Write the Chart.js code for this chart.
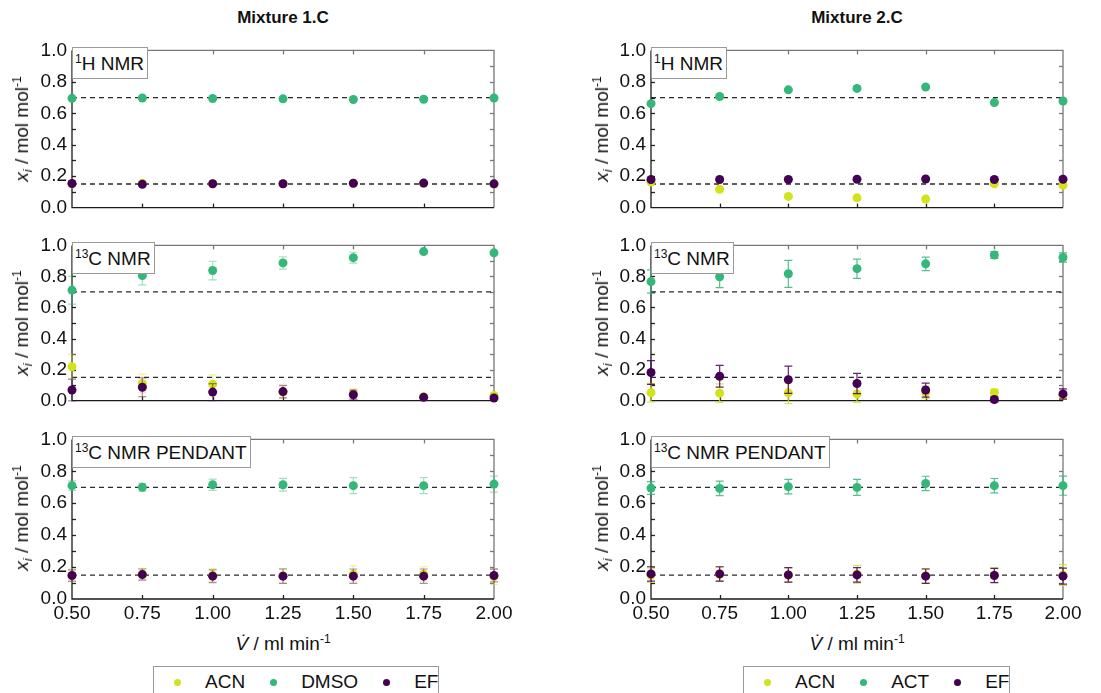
<!DOCTYPE html>
<html>
<head>
<meta charset="utf-8">
<script src="https://cdn.jsdelivr.net/npm/chart.js@4.4.0/dist/chart.umd.min.js"></script>
<style>
  body { margin: 0; background: #fff; font-family: "Liberation Sans", Arial, sans-serif; color: #111; }
  #fig { position: relative; width: 1101px; height: 693px; overflow: hidden; background: #fff; }
  #fig canvas { position: absolute; }
  .txt { position: absolute; white-space: nowrap; font-size: 19px; line-height: 22px; }
  .title { font-weight: bold; font-size: 17px; transform: translate(-50%, -50%); }
  .ylab { transform: translate(-50%, -50%) rotate(-90deg); }
  .xlab { transform: translate(-50%, -50%); }
  .tag { position: absolute; background: #fff; border: 1px solid #9a9a9a; font-size: 19px; line-height: 21px; padding: 5px 3px 4px 2px; white-space: nowrap; }
  sup { font-size: 12px; vertical-align: 7px; line-height: 0; }
  sub { font-size: 13px; vertical-align: -4px; line-height: 0; }
  .legend { position: absolute; border: 1px solid #9a9a9a; height: 40px; display: flex; align-items: flex-start; padding-top: 4px; box-sizing: border-box; font-size: 19px; line-height: 22px; }
  .legend .item { display: flex; align-items: center; margin-right: 25px; flex-shrink: 0; }
  .legend .item:last-child { margin-right: 0; }
  .legend .dot { width: 7px; height: 7px; border-radius: 50%; margin-right: 24px; }
</style>
</head>
<body>
<div id="fig"></div>
<script>
// flow rate V̇ / ml min-1
const flowRates = [0.5, 0.75, 1.0, 1.25, 1.5, 1.75, 2.0];
const refLevels = [0.7, 0.15];

const mixtureTitles = ['Mixture 1.C', 'Mixture 2.C'];
const names1 = ['ACN', 'DMSO', 'EF'];
const names2 = ['ACN', 'ACT', 'EF'];
const seriesColors = ['#d2e21b', '#35b779', '#440154'];
const methodLabels = ['<sup>1</sup>H NMR', '<sup>13</sup>C NMR', '<sup>13</sup>C NMR PENDANT'];

// Mixture 1.C
const m1H_acn  = [0.152, 0.155, 0.151, 0.152, 0.155, 0.154, 0.150];
const m1H_dmso = [0.695, 0.697, 0.694, 0.692, 0.688, 0.689, 0.697];
const m1H_ef   = [0.153, 0.148, 0.152, 0.152, 0.155, 0.156, 0.151];
const m1H_err  = [0.003, 0.003, 0.003, 0.003, 0.003, 0.003, 0.003];

const m1C_acn      = [0.218, 0.110, 0.106, 0.055, 0.045, 0.025, 0.033];
const m1C_acn_err  = [0.080, 0.060, 0.060, 0.040, 0.030, 0.010, 0.010];
const m1C_dmso     = [0.712, 0.806, 0.838, 0.887, 0.921, 0.960, 0.952];
const m1C_dmso_err = [0.090, 0.060, 0.060, 0.040, 0.035, 0.010, 0.012];
const m1C_ef       = [0.068, 0.086, 0.055, 0.058, 0.038, 0.021, 0.017];
const m1C_ef_err   = [0.070, 0.060, 0.055, 0.040, 0.030, 0.010, 0.010];

const m1P_acn      = [0.148, 0.157, 0.150, 0.145, 0.157, 0.157, 0.140];
const m1P_acn_err  = [0.040, 0.035, 0.040, 0.045, 0.050, 0.045, 0.050];
const m1P_dmso     = [0.710, 0.700, 0.716, 0.716, 0.710, 0.710, 0.720];
const m1P_dmso_err = [0.030, 0.025, 0.035, 0.040, 0.050, 0.050, 0.050];
const m1P_ef       = [0.147, 0.153, 0.143, 0.143, 0.143, 0.143, 0.147];
const m1P_ef_err   = [0.035, 0.035, 0.040, 0.045, 0.045, 0.045, 0.040];

// Mixture 2.C
const m2H_acn = [0.163, 0.117, 0.071, 0.062, 0.054, 0.152, 0.142];
const m2H_act = [0.661, 0.707, 0.749, 0.758, 0.767, 0.668, 0.678];
const m2H_ef  = [0.179, 0.179, 0.179, 0.180, 0.182, 0.179, 0.180];
const m2H_err = [0.003, 0.003, 0.003, 0.003, 0.003, 0.003, 0.003];

const m2C_acn     = [0.051, 0.048, 0.050, 0.043, 0.052, 0.052, 0.034];
const m2C_acn_err = [0.060, 0.060, 0.070, 0.055, 0.040, 0.020, 0.020];
const m2C_act     = [0.767, 0.798, 0.817, 0.850, 0.881, 0.938, 0.922];
const m2C_act_err = [0.075, 0.070, 0.087, 0.062, 0.043, 0.022, 0.030];
const m2C_ef      = [0.181, 0.157, 0.134, 0.110, 0.068, 0.007, 0.043];
const m2C_ef_err  = [0.077, 0.070, 0.088, 0.065, 0.045, 0.015, 0.033];

const m2P_acn     = [0.150, 0.155, 0.150, 0.155, 0.145, 0.150, 0.150];
const m2P_acn_err = [0.045, 0.045, 0.045, 0.055, 0.045, 0.045, 0.065];
const m2P_act     = [0.695, 0.693, 0.704, 0.699, 0.724, 0.710, 0.710];
const m2P_act_err = [0.040, 0.045, 0.045, 0.050, 0.045, 0.045, 0.060];
const m2P_ef      = [0.157, 0.157, 0.151, 0.151, 0.143, 0.147, 0.143];
const m2P_ef_err  = [0.045, 0.045, 0.045, 0.045, 0.045, 0.045, 0.050];

const panels = [
  { col: 0, row: 0, values: [m1H_acn, m1H_dmso, m1H_ef], errors: [m1H_err, m1H_err, m1H_err] },
  { col: 0, row: 1, values: [m1C_acn, m1C_dmso, m1C_ef], errors: [m1C_acn_err, m1C_dmso_err, m1C_ef_err] },
  { col: 0, row: 2, values: [m1P_acn, m1P_dmso, m1P_ef], errors: [m1P_acn_err, m1P_dmso_err, m1P_ef_err] },
  { col: 1, row: 0, values: [m2H_acn, m2H_act, m2H_ef], errors: [m2H_err, m2H_err, m2H_err] },
  { col: 1, row: 1, values: [m2C_acn, m2C_act, m2C_ef], errors: [m2C_acn_err, m2C_act_err, m2C_ef_err] },
  { col: 1, row: 2, values: [m2P_acn, m2P_act, m2P_ef], errors: [m2P_acn_err, m2P_act_err, m2P_ef_err] },
];

// layout (plot area edges in page pixels)
const colX = [[72, 494], [651, 1063]];
const rowY = [[47, 211], [242, 404], [436, 599]];
const FONT = '"Liberation Sans", Arial, sans-serif';

function rgba(hex, a) {
  const n = parseInt(hex.slice(1), 16);
  return `rgba(${n >> 16},${(n >> 8) & 255},${n & 255},${a})`;
}

// draw axes box with inward ticks
const framePlugin = {
  id: 'frame',
  beforeDatasetsDraw(chart) {
    const { ctx, chartArea: a, scales: { x, y } } = chart;
    ctx.save();
    ctx.lineWidth = 1.3;
    const tl = 4;
    for (let v = 0.1; v < 0.95; v += 0.1) {
      const py = Math.round(y.getPixelForValue(v)) + 0.5;
      ctx.strokeStyle = '#222';
      ctx.beginPath(); ctx.moveTo(a.left, py); ctx.lineTo(a.left + tl, py); ctx.stroke();
      ctx.strokeStyle = '#777';
      ctx.beginPath(); ctx.moveTo(a.right, py); ctx.lineTo(a.right - tl, py); ctx.stroke();
    }
    for (let v = 0.75; v < 1.9; v += 0.25) {
      const px = Math.round(x.getPixelForValue(v)) + 0.5;
      ctx.strokeStyle = '#222';
      ctx.beginPath(); ctx.moveTo(px, a.bottom); ctx.lineTo(px, a.bottom - tl); ctx.stroke();
      ctx.strokeStyle = '#777';
      ctx.beginPath(); ctx.moveTo(px, a.top); ctx.lineTo(px, a.top + tl); ctx.stroke();
    }
    ctx.strokeStyle = '#777';
    ctx.beginPath(); ctx.moveTo(a.left, a.top); ctx.lineTo(a.right, a.top); ctx.lineTo(a.right, a.bottom); ctx.stroke();
    ctx.strokeStyle = '#1a1a1a';
    ctx.beginPath(); ctx.moveTo(a.left, a.top); ctx.lineTo(a.left, a.bottom); ctx.lineTo(a.right, a.bottom); ctx.stroke();
    ctx.restore();
  }
};

// error bars drawn just before each scatter dataset
const errorBarPlugin = {
  id: 'errorBars',
  beforeDatasetDraw(chart, args) {
    const ds = chart.data.datasets[args.index];
    if (!ds.errors) return;
    const { ctx, scales: { x, y } } = chart;
    ctx.save();
    ctx.strokeStyle = ds.barColor;
    ctx.lineWidth = 1.2;
    ds.data.forEach((p, i) => {
      const e = ds.errors[i];
      const px = x.getPixelForValue(p.x);
      const top = y.getPixelForValue(p.y + e);
      const bot = y.getPixelForValue(p.y - e);
      ctx.beginPath();
      ctx.moveTo(px, top); ctx.lineTo(px, bot);
      ctx.moveTo(px - 4, top); ctx.lineTo(px + 4, top);
      ctx.moveTo(px - 4, bot); ctx.lineTo(px + 4, bot);
      ctx.stroke();
    });
    ctx.restore();
  }
};

const fig = document.getElementById('fig');

function addText(html, cls, left, top) {
  const d = document.createElement('div');
  d.className = 'txt ' + cls;
  d.innerHTML = html;
  d.style.left = left + 'px';
  d.style.top = top + 'px';
  fig.appendChild(d);
  return d;
}

panels.forEach(p => {
  const [l, r] = colX[p.col];
  const [t, b] = rowY[p.row];
  const last = p.row === 2;
  const padT = 13, padR = 24, yW = 42;
  const xH = last ? 30 : 0, padB = last ? 0 : 13;
  const cv = document.createElement('canvas');
  cv.width = r - l + yW + padR;
  cv.height = b - t + padT + xH + padB;
  cv.style.width = cv.width + 'px';
  cv.style.height = cv.height + 'px';
  cv.style.left = (l - yW) + 'px';
  cv.style.top = (t - padT) + 'px';
  fig.appendChild(cv);

  const names = p.col === 0 ? names1 : names2;
  const barAlpha = p.col === 0 ? 0.45 : 0.85;
  const xMin = flowRates[0], xMax = flowRates[flowRates.length - 1];

  const refSets = refLevels.map(level => ({
    type: 'line',
    data: [{ x: xMin, y: level }, { x: xMax, y: level }],
    borderColor: '#2a2a2a',
    borderWidth: 1.3,
    borderDash: [5, 4],
    pointRadius: 0,
    order: 10
  }));

  const pointSets = names.map((n, k) => ({
    type: 'scatter',
    label: n,
    data: flowRates.map((x, i) => ({ x, y: p.values[k][i] })),
    errors: p.errors[k],
    barColor: rgba(seriesColors[k], barAlpha),
    backgroundColor: seriesColors[k],
    borderWidth: 0,
    pointRadius: 4.5,
    order: [3, 2, 1][k],
    clip: false
  }));

  new Chart(cv, {
    type: 'scatter',
    data: { datasets: [...refSets, ...pointSets] },
    options: {
      responsive: false,
      animation: false,
      devicePixelRatio: 1,
      layout: { padding: { top: padT, right: padR, left: 0, bottom: padB } },
      plugins: { legend: { display: false }, tooltip: { enabled: false } },
      scales: {
        x: {
          type: 'linear', min: xMin, max: xMax,
          grid: { display: false, drawTicks: false },
          border: { display: false },
          ticks: {
            display: last, stepSize: 0.25, padding: 3, maxRotation: 0, autoSkip: false,
            color: '#111', font: { family: FONT, size: 19 },
            callback: v => v.toFixed(2)
          },
          afterFit: s => { s.height = xH; }
        },
        y: {
          min: 0, max: 1,
          grid: { display: false, drawTicks: false },
          border: { display: false },
          ticks: {
            stepSize: 0.2, padding: 5, color: '#111', font: { family: FONT, size: 19 },
            callback: v => v.toFixed(1)
          },
          afterFit: s => { s.width = yW; }
        }
      }
    },
    plugins: [framePlugin, errorBarPlugin]
  });

  // method tag in the upper-left corner
  const tag = document.createElement('div');
  tag.className = 'tag';
  tag.innerHTML = methodLabels[p.row];
  tag.style.left = l + 'px';
  tag.style.top = t + 'px';
  fig.appendChild(tag);

  // y-axis title
  addText('<i>x</i><sub><i>i</i></sub> / mol mol<sup>-1</sup>', 'ylab', p.col === 0 ? 22 : 602, (t + b) / 2);
});

// column titles, x titles and legends
[0, 1].forEach(c => {
  const cx = (colX[c][0] + colX[c][1]) / 2;
  addText(mixtureTitles[c], 'title', cx, 18);
  addText('<i>V&#775;</i> / ml min<sup>-1</sup>', 'xlab', cx, 644);

  const names = c === 0 ? names1 : names2;
  const lg = document.createElement('div');
  lg.className = 'legend';
  lg.style.left = (c === 0 ? 153 : 743) + 'px';
  lg.style.width = (c === 0 ? 286 : 267) + 'px';
  lg.style.top = '666px';
  lg.style.paddingLeft = '20px';
  names.forEach((n, k) => {
    const it = document.createElement('div');
    it.className = 'item';
    it.innerHTML = `<span class="dot" style="background:${seriesColors[k]}"></span><span>${n}</span>`;
    lg.appendChild(it);
  });
  fig.appendChild(lg);
});
</script>
</body>
</html>
